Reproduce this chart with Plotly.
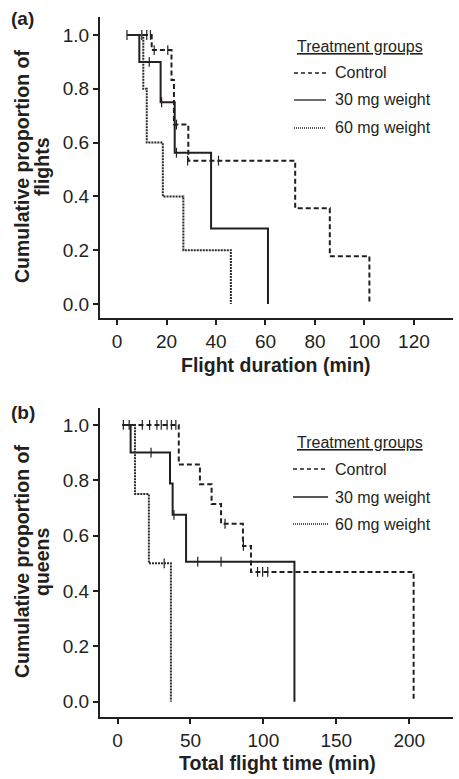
import plotly.graph_objects as go

W, H = 459, 779
INK = "#231f20"
FONT = "Liberation Sans, Arial, Helvetica, sans-serif"

# ---------------- Data ----------------
# Panel (a): flight duration (min) vs cumulative proportion of flights
ctrl_a_t = [4, 14, 22, 23, 28.8, 72, 86, 102]
ctrl_a_s = [1.0, 0.944, 0.833, 0.667, 0.533, 0.356, 0.178, 0.0]
ctrl_a_cens_t = [10, 12, 13.5, 15, 20.5, 24, 28.5, 41]
ctrl_a_cens_s = [1.0, 1.0, 1.0, 0.944, 0.944, 0.667, 0.533, 0.533]

w30_a_t = [4, 9, 17.6, 23.3, 38, 61]
w30_a_s = [1.0, 0.9, 0.75, 0.5625, 0.281, 0.0]
w30_a_cens_t = [4, 13, 18, 24]
w30_a_cens_s = [1.0, 0.9, 0.75, 0.5625]

w60_a_t = [4, 10.6, 12, 18.5, 26.8, 46]
w60_a_s = [1.0, 0.8, 0.6, 0.4, 0.2, 0.0]

# Panel (b): total flight time (min) vs cumulative proportion of queens
ctrl_b_t = [3.4, 42, 56.5, 64.5, 71, 86, 91.5, 203]
ctrl_b_s = [1.0, 0.857, 0.786, 0.714, 0.643, 0.563, 0.469, 0.0]
ctrl_b_cens_t = [17, 22, 27, 30, 34, 37, 40, 73.7, 86.3, 96, 99.5, 103]
ctrl_b_cens_s = [1.0, 1.0, 1.0, 1.0, 1.0, 1.0, 1.0, 0.643, 0.563, 0.469, 0.469, 0.469]

w30_b_t = [3.4, 9, 36, 37.8, 47, 121.3]
w30_b_s = [1.0, 0.9, 0.788, 0.675, 0.506, 0.0]
w30_b_cens_t = [4, 8, 23, 38.7, 55, 71]
w30_b_cens_s = [1.0, 1.0, 0.9, 0.675, 0.506, 0.506]

w60_b_t = [3.4, 12, 21.5, 36.6]
w60_b_s = [1.0, 0.75, 0.5, 0.0]
w60_b_cens_t = [32]
w60_b_cens_s = [0.5]

groups = ["Control", "30 mg weight", "60 mg weight"]
y_ticks = [0.0, 0.2, 0.4, 0.6, 0.8, 1.0]
x_ticks_a = [0, 20, 40, 60, 80, 100, 120]
x_ticks_b = [0, 50, 100, 150, 200]

# ---------------- Styles ----------------
styles = {
    "Control": dict(color=INK, width=2, dash="5px,3px"),
    "30 mg weight": dict(color=INK, width=2, dash="solid"),
    "60 mg weight": dict(color="#2a2a2a", width=2, dash="2px,1px"),
}


def px_x(p):
    return p / W


def px_y(p):
    return 1 - p / H


fig = go.Figure()


def add_curve(t, s, name, xa, ya):
    fig.add_trace(go.Scatter(x=t, y=s, mode="lines", line=dict(shape="hv", **styles[name]),
                             xaxis=xa, yaxis=ya, showlegend=False, hoverinfo="skip"))


def add_cens(t, s, xa, ya):
    fig.add_trace(go.Scatter(x=t, y=s, mode="markers",
                             marker=dict(symbol="line-ns-open", size=7, color=INK,
                                         line=dict(color=INK, width=1.2)),
                             xaxis=xa, yaxis=ya, showlegend=False, hoverinfo="skip"))


add_curve(ctrl_a_t, ctrl_a_s, "Control", "x", "y")
add_curve(w30_a_t, w30_a_s, "30 mg weight", "x", "y")
add_curve(w60_a_t, w60_a_s, "60 mg weight", "x", "y")
add_cens(ctrl_a_cens_t, ctrl_a_cens_s, "x", "y")
add_cens(w30_a_cens_t, w30_a_cens_s, "x", "y")

add_curve(ctrl_b_t, ctrl_b_s, "Control", "x2", "y2")
add_curve(w30_b_t, w30_b_s, "30 mg weight", "x2", "y2")
add_curve(w60_b_t, w60_b_s, "60 mg weight", "x2", "y2")
add_cens(ctrl_b_cens_t, ctrl_b_cens_s, "x2", "y2")
add_cens(w30_b_cens_t, w30_b_cens_s, "x2", "y2")
add_cens(w60_b_cens_t, w60_b_cens_s, "x2", "y2")

axis_common = dict(showline=True, linewidth=2, linecolor=INK, ticks="outside", ticklen=5,
                   tickwidth=1.5, tickcolor=INK, showgrid=False, zeroline=False,
                   tickfont=dict(family=FONT, size=19, color=INK), mirror=False)

xdom = [px_x(100), px_x(453)]
fig.update_layout(
    width=W, height=H, autosize=False,
    margin=dict(l=0, r=0, t=0, b=0),
    paper_bgcolor="white", plot_bgcolor="white",
    xaxis=dict(domain=xdom, range=[-6.9, 135.8], tickvals=x_ticks_a, anchor="y", **axis_common),
    yaxis=dict(domain=[px_y(318), px_y(17)], range=[-0.052, 1.067], tickvals=y_ticks,
               tickformat=".1f", anchor="x", **axis_common),
    xaxis2=dict(domain=xdom, range=[-12, 230], tickvals=x_ticks_b, anchor="y2", **axis_common),
    yaxis2=dict(domain=[px_y(716.7), px_y(408)], range=[-0.054, 1.061], tickvals=y_ticks,
                tickformat=".1f", anchor="x2", **axis_common),
)

ann = []


def text(x, y, s, size, bold=False, angle=0, xanchor="center"):
    ann.append(dict(x=px_x(x), y=px_y(y), xref="paper", yref="paper", text=(f"<b>{s}</b>" if bold else s),
                    showarrow=False, textangle=angle, xanchor=xanchor, yanchor="middle",
                    font=dict(family=FONT, size=size, color=INK)))


# panel labels
text(22, 18, "(a)", 19, bold=True)
text(23, 412, "(b)", 19, bold=True)
# axis titles
text(276, 365, "Flight duration (min)", 19.5, bold=True)
text(277, 763, "Total flight time (min)", 19.5, bold=True)
text(22, 167, "Cumulative proportion of", 19.5, bold=True, angle=-90)
text(42, 167, "flights", 19.5, bold=True, angle=-90)
text(22, 562, "Cumulative proportion of", 19.5, bold=True, angle=-90)
text(42, 562, "queens", 19.5, bold=True, angle=-90)

# legends (drawn as annotations + line shapes)
shapes = []
for (title_y, rows, x0, x1) in [(47, [73, 100, 128], 294, 326), (442, [469, 497, 524], 293, 328)]:
    text(360, title_y, "<u>Treatment groups</u>", 16)
    for g, ry in zip(groups, rows):
        text(333, ry, g, 16, xanchor="left")
        st = styles[g]
        shapes.append(dict(type="line", xref="paper", yref="paper",
                           x0=px_x(x0), x1=px_x(x1), y0=px_y(ry), y1=px_y(ry),
                           line=dict(color=INK, width=1.3,
                                     dash=("4px,3px" if g == "Control" else ("1px,1px" if g == "60 mg weight" else "solid")))))

fig.update_layout(annotations=ann, shapes=shapes)

fig.write_html("out.html")
